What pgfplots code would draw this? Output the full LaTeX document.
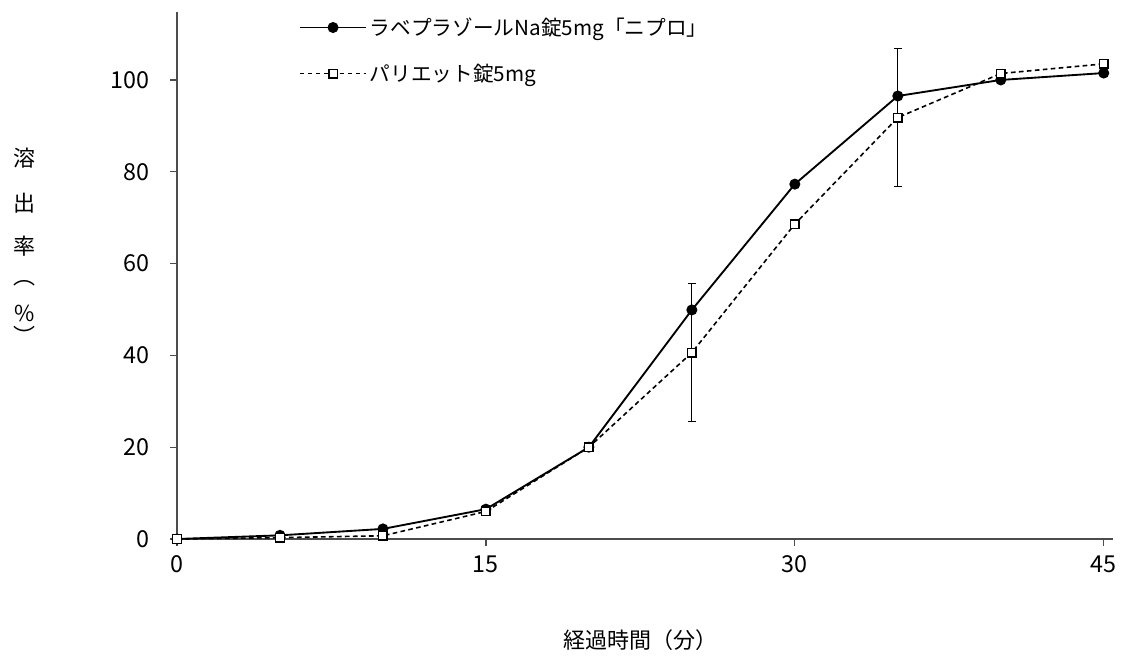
\documentclass[border=0pt]{standalone}
\usepackage{fontspec}
\setmainfont{Noto Sans CJK JP}
\usepackage{pgfplots}
\pgfplotsset{compat=1.18}
\begin{document}
\begin{tikzpicture}[x=0.75pt,y=0.75pt]
\begin{axis}[
  at={(0,0)}, anchor=origin,
  scale only axis, width=702pt, height=395.25pt,
  xmin=0, xmax=45.45, ymin=0, ymax=114.8,
  axis x line=bottom, axis y line=left,
  axis line style={-, black!70, line width=0.9pt},
  xtick={0,15,30,45}, ytick={0,20,40,60,80,100},
  tick style={black!70, line width=0.9pt}, major tick length=5pt,
  xtick pos=bottom, ytick pos=left,
  tick align=outside,
  ticklabel style={font=\fontsize{17.5}{19}\selectfont},
  /pgf/number format/assume math mode=true,
  clip=false,
  xticklabel style={yshift=-4pt},
  yticklabel style={xshift=-12pt},
  legend style={draw=none, fill=none, at={(axis cs:5.9,114.2)}, anchor=north west,
    font=\fontsize{15.5}{17}\selectfont, row sep=16pt, inner sep=0pt},
  legend cell align=left,
  legend image code/.code={\draw[mark repeat=2,mark phase=2] plot coordinates {(0pt,0pt)(25pt,0pt)(50pt,0pt)};},
]
\addplot[black, line width=1.4pt, mark=*, mark size=3.4pt] coordinates {
(0,0)(5,0.8)(10,2.2)(15,6.5)(20,20)(25,49.9)(30,77.3)(35,96.5)(40,100)(45,101.5)};
\addlegendentry{ラベプラゾールNa錠5mg「ニプロ」}
\addplot[black, line width=1.2pt, dash pattern=on 3.5pt off 2.5pt, mark=square*, mark options={solid, fill=white, line width=1.1pt}, mark size=3.2pt,
  error bars/.cd, y dir=both, y explicit, error bar style={solid, line width=0.7pt}, error mark options={rotate=90, black, mark size=3pt, solid, line width=0.7pt}]
  coordinates {
(0,0) +- (0,0)
(5,0.3) +- (0,0)
(10,0.7) +- (0,0)
(15,6) +- (0,0)
(20,20) +- (0,0)
(25,40.6) +- (0,15.1)
(30,68.6) +- (0,0)
(35,91.8) +- (0,15.1)
(40,101.4) +- (0,0)
(45,103.5) +- (0,0)};
\addlegendentry{パリエット錠5mg}
\end{axis}
\pgfresetboundingbox
\path (-177,-125) rectangle (964,539);
\begin{scope}[every node/.style={font=\fontsize{16.5}{18}\selectfont, inner sep=0pt}]
\node at (-152,381) {溶};
\node at (-152,336) {出};
\node at (-152,293) {率};
\node at (-152,256) {︵};
\node at (-152,226) {\%};
\node at (-152,204) {︶};
\node at (463,-101) {経過時間（分）};
\end{scope}
\end{tikzpicture}
\end{document}
